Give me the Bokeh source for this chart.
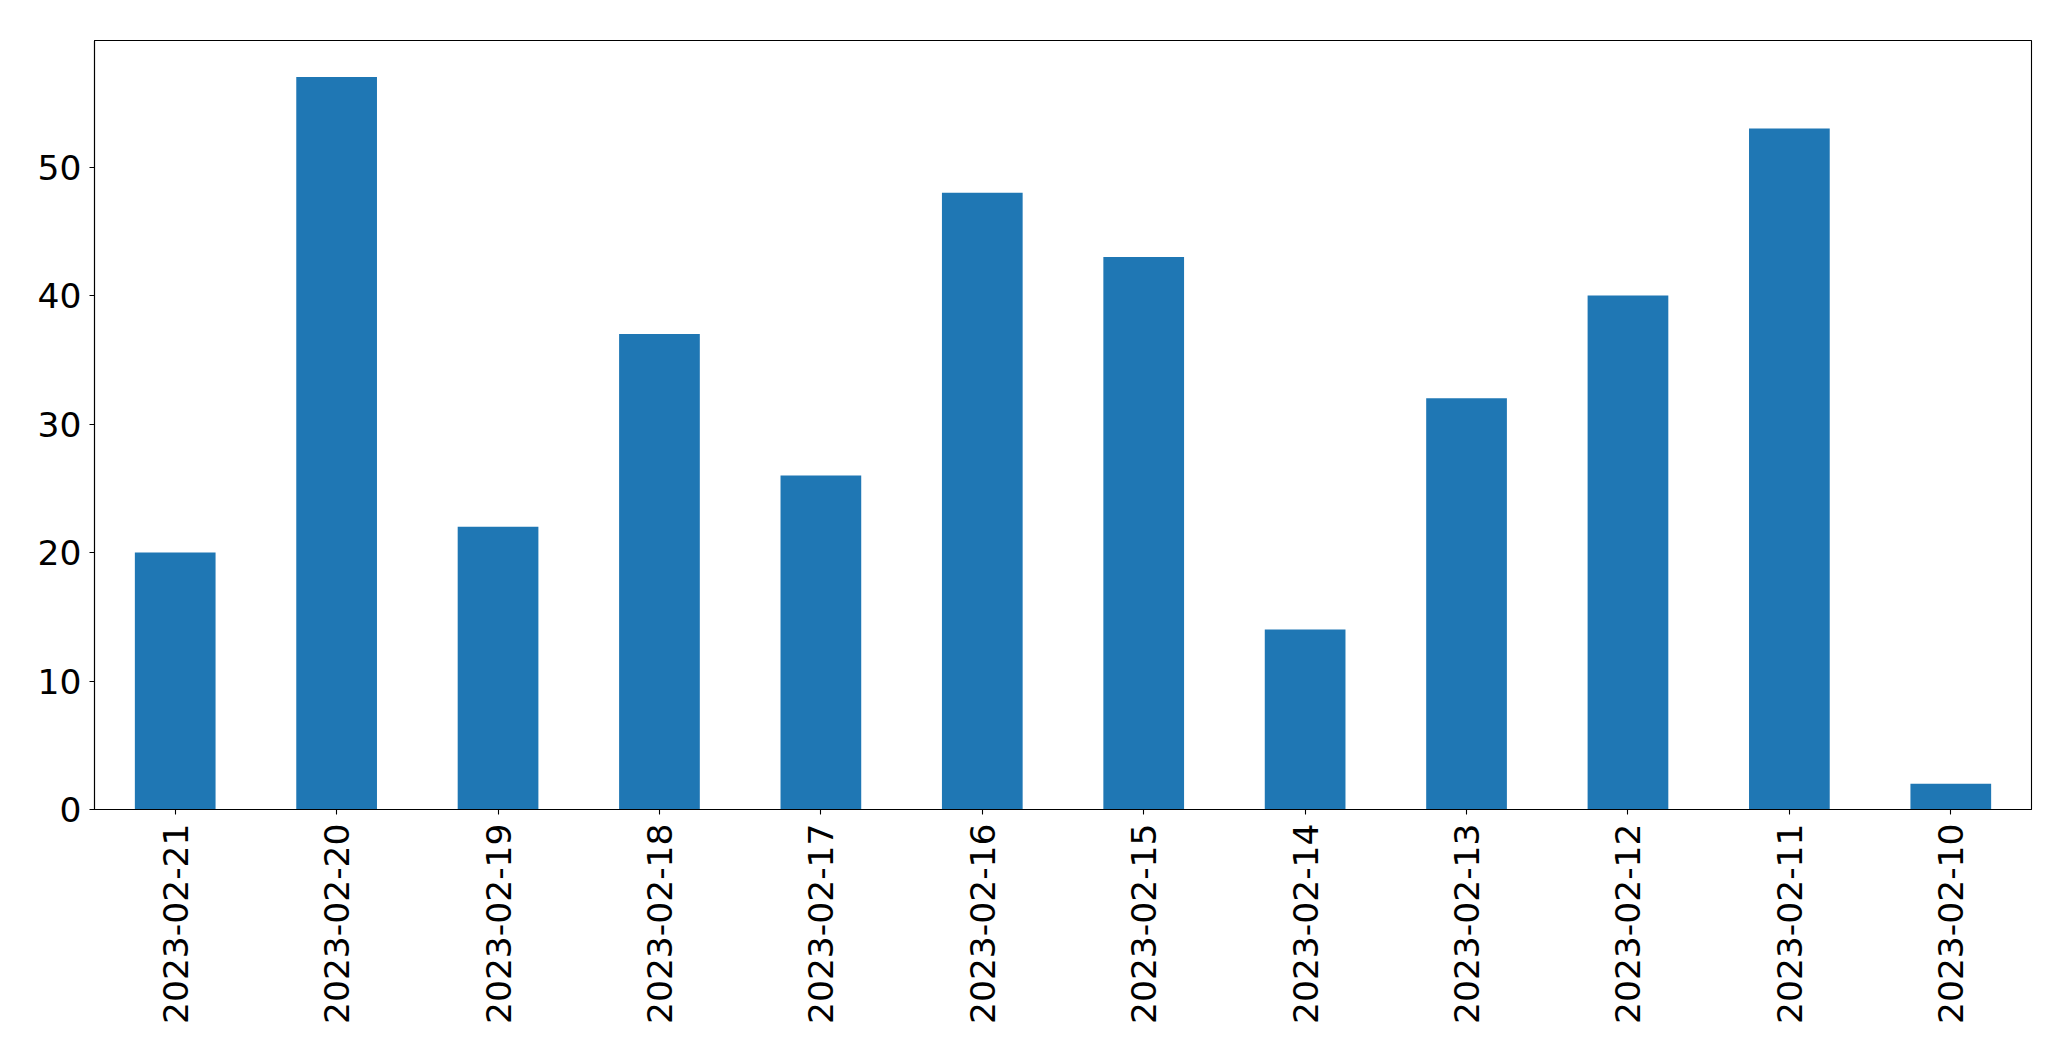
from bokeh.plotting import figure
from bokeh.models import Range1d, FactorRange, FixedTicker
from bokeh.embed import file_html
from bokeh.resources import INLINE
import math

dates = ["2023-02-21", "2023-02-20", "2023-02-19", "2023-02-18", "2023-02-17", "2023-02-16",
         "2023-02-15", "2023-02-14", "2023-02-13", "2023-02-12", "2023-02-11", "2023-02-10"]
counts = [20, 57, 22, 37, 26, 48, 43, 14, 32, 40, 53, 2]
y_ticks = [0, 10, 20, 30, 40, 50]

p = figure(x_range=FactorRange(*dates, range_padding=0), y_range=Range1d(0, max(counts) * 1.05),
           frame_width=1937, frame_height=769,
           min_border_left=94, min_border_top=40, min_border_right=30, min_border_bottom=20,
           output_backend="svg", toolbar_location=None)

p.vbar(x=dates, top=counts, width=0.5, fill_color="#1f77b4", line_color=None)

p.xgrid.visible = False
p.ygrid.visible = False
p.outline_line_color = "black"
p.outline_line_width = 1.1
p.outline_line_alpha = 1.0

for ax in (p.xaxis[0], p.yaxis[0]):
    ax.axis_line_color = "black"
    ax.axis_line_width = 1.1
    ax.major_tick_line_color = "black"
    ax.major_tick_line_width = 1.1
    ax.major_tick_out = 5
    ax.major_tick_in = 0
    ax.minor_tick_line_color = None
    ax.major_label_text_font = "DejaVu Sans"
    ax.major_label_text_font_size = "34.5px"
    ax.major_label_text_color = "black"

p.yaxis[0].ticker = FixedTicker(ticks=y_ticks)
p.yaxis[0].major_label_standoff = 8
p.xaxis[0].major_label_orientation = math.pi / 2
p.xaxis[0].major_label_standoff = 9

open("out.html", "w").write(file_html(p, INLINE))
